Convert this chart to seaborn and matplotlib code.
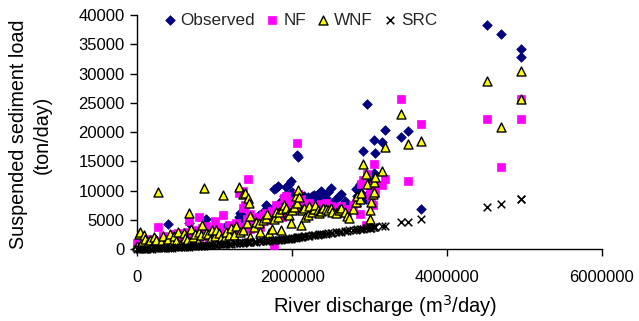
import matplotlib
matplotlib.use("Agg")
import matplotlib.pyplot as plt
import seaborn as sns
import pandas as pd

discharge = [0, 20000, 40000, 60000, 80000, 100000, 130000, 160000, 190000, 220000,
             240000, 270000, 300000, 330000, 360000, 390000, 420000, 450000, 470000, 500000,
             530000, 560000, 600000, 620000, 640000, 670000, 690000, 720000, 750000, 780000,
             800000, 820000, 840000, 860000, 880000, 910000, 940000, 970000, 1000000, 1020000,
             1050000, 1080000, 1110000, 1120000, 1150000, 1180000, 1210000, 1250000, 1280000, 1310000,
             1330000, 1360000, 1370000, 1390000, 1410000, 1430000, 1440000, 1450000, 1460000, 1500000,
             1530000, 1570000, 1590000, 1620000, 1660000, 1680000, 1700000, 1740000, 1770000, 1790000,
             1810000, 1830000, 1850000, 1870000, 1900000, 1920000, 1940000, 1960000, 1980000, 2000000,
             2020000, 2050000, 2060000, 2070000, 2090000, 2110000, 2130000, 2150000, 2170000, 2200000,
             2220000, 2250000, 2280000, 2300000, 2330000, 2350000, 2370000, 2400000, 2430000, 2460000,
             2500000, 2520000, 2560000, 2600000, 2630000, 2680000, 2710000, 2730000, 2790000, 2820000,
             2840000, 2870000, 2890000, 2910000, 2950000, 2970000, 3000000, 3010000, 3020000, 3040000,
             3050000, 3060000, 3070000, 3160000, 3200000, 3400000, 3500000, 3660000, 4520000, 4700000,
             4950000, 4950000]

observed = [200, 400, 300, 600, 500, 800, 400, 900, 1200, 700,
            1500, 1000, 1800, 600, 1300, 4300, 900, 2000, 1100, 1600,
            800, 2200, 1400, 2600, 1000, 4500, 1800, 2400, 1300, 3000,
            1700, 2100, 2800, 3400, 5100, 2000, 2600, 1500, 3200, 2300,
            1800, 3600, 2800, 2200, 3900, 2500, 3000, 4200, 3300, 5500,
            6200, 4800, 3900, 5300, 4600, 7800, 5000, 3700, 4400, 5200,
            4000, 5800, 4700, 6300, 7500, 7300, 6000, 6800, 10200, 10400,
            10800, 7000, 8200, 7700, 9100, 10600, 8600, 11200, 11700, 9800,
            8800, 9500, 16100, 15700, 8000, 9300, 7600, 9100, 8300, 8900,
            8400, 9000, 9200, 8700, 8400, 9600, 10000, 9300, 8700, 9700,
            10400, 7900, 8600, 9100, 9400, 8300, 7000, 7200, 7600, 10200,
            9000, 11200, 9600, 16700, 8600, 24800, 12000, 9800, 11000, 10200,
            13000, 18600, 16500, 18300, 20300, 19100, 20200, 6800, 38300, 36700,
            34200, 32800]

nf = [1000, 700, 1500, 400, 900, 300, 1200, 500, 1800, 900,
      1300, 3700, 1000, 2200, 700, 2000, 1500, 600, 2600, 1200,
      2800, 1700, 2300, 1000, 3000, 4800, 2500, 1400, 3200, 2000,
      5500, 2600, 3600, 3000, 4000, 2900, 1800, 3400, 4800, 2500,
      3800, 2200, 5800, 3000, 2700, 4200, 3300, 2600, 4500, 9600,
      3800, 7000, 10000, 7500, 5200, 11900, 4300, 6000, 3500, 4600,
      4100, 5500, 3700, 5900, 6200, 4900, 5200, 6500, 700, 7600,
      6800, 5800, 6400, 5500, 8800, 9000, 7300, 8100, 7900, 6900,
      7700, 8300, 18200, 9400, 6600, 8500, 7200, 7100, 7400, 6200,
      7800, 6700, 7500, 6900, 7300, 6400, 7700, 6800, 7800, 7000,
      7300, 6900, 6600, 7200, 7400, 6500, 6100, 6800, 7600, 7800,
      8100, 6000, 11200, 11800, 4100, 12900, 10500, 9300, 8800, 7500,
      14600, 10800, 9600, 11000, 11900, 25600, 11700, 21300, 22200, 14100,
      25600, 22200]

wnf = [600, 2500, 3000, 1200, 2400, 1800, 800, 1500, 600, 2000,
       1500, 9800, 1200, 2300, 900, 1700, 2600, 1000, 2200, 1400,
       3000, 800, 2800, 1900, 1500, 6100, 3400, 2000, 2600, 1200,
       3000, 2400, 4100, 10400, 2800, 2500, 1600, 3300, 2200, 3200,
       2700, 1900, 9200, 1800, 3000, 2400, 3600, 2400, 3900, 10600,
       3000, 3200, 9500, 9600, 4500, 8800, 7800, 5600, 2100, 3800,
       4600, 4400, 3000, 4900, 5300, 6000, 2700, 3500, 5100, 6300,
       5500, 6400, 3200, 6800, 7500, 7000, 6000, 5800, 4400, 6600,
       7200, 9100, 7800, 10100, 8900, 4100, 6700, 7000, 5500, 5800,
       7300, 6400, 6900, 7500, 6600, 6200, 6500, 7100, 6800, 6600,
       7000, 6400, 6100, 6700, 7000, 6300, 5600, 5400, 6900, 8100,
       9100, 8500, 9600, 14600, 12900, 11200, 6700, 5200, 8100, 9500,
       9800, 11500, 12300, 13400, 17400, 23100, 17900, 18500, 28800, 20900,
       30400, 25600]

src = [0, 10, 15, 25, 30, 40, 55, 75, 90, 110,
       120, 140, 160, 180, 210, 230, 250, 270, 290, 300,
       330, 350, 380, 400, 410, 440, 450, 480, 500, 530,
       550, 570, 590, 600, 620, 650, 680, 710, 740, 760,
       790, 810, 840, 850, 880, 910, 940, 980, 1010, 1040,
       1060, 1100, 1110, 1130, 1150, 1170, 1180, 1200, 1210, 1250,
       1280, 1320, 1340, 1370, 1420, 1440, 1460, 1500, 1540, 1560,
       1580, 1600, 1620, 1650, 1680, 1710, 1730, 1760, 1780, 1900,
       1930, 1980, 2000, 2020, 2060, 2100, 2130, 2160, 2200, 2240,
       2280, 2330, 2390, 2420, 2480, 2510, 2550, 2600, 2650, 2700,
       2770, 2800, 2880, 2950, 3000, 3090, 3140, 3180, 3280, 3330,
       3370, 3420, 3460, 3500, 3570, 3600, 3650, 3670, 3690, 3720,
       3740, 3760, 3780, 3950, 4000, 4600, 4700, 5100, 7200, 7700,
       8500, 8500]

series_names = ["Observed", "NF", "WNF", "SRC"]
x_ticks = [0, 2000000, 4000000, 6000000]
y_ticks = [0, 5000, 10000, 15000, 20000, 25000, 30000, 35000, 40000]

df = pd.DataFrame({"Q": discharge, "Observed": observed, "NF": nf,
                   "WNF": wnf, "SRC": src})

sns.set_style("ticks")
plt.rcParams["font.family"] = ["Liberation Sans", "DejaVu Sans"]

fig, ax = plt.subplots(figsize=(6.39, 3.21), dpi=100)
fig.subplots_adjust(left=0.215, right=0.942, top=0.953, bottom=0.224)

styles = {
    "Observed": dict(marker="D", color="#000080", edgecolor="#000080", s=24, linewidth=0.5),
    "NF": dict(marker="s", color="#FF00FF", edgecolor="#FF00FF", s=28, linewidth=0.5),
    "WNF": dict(marker="^", color="#FFFF00", edgecolor="black", s=42, linewidth=1.0),
    "SRC": dict(marker="x", color="black", s=30, linewidth=1.1),
}

for name in series_names:
    sns.scatterplot(data=df, x="Q", y=name, ax=ax, label=name,
                    clip_on=False, zorder=3, **styles[name])

ax.set_xlim(0, 6000000)
ax.set_ylim(0, 40000)
ax.set_xticks(x_ticks)
ax.set_xticklabels([str(v) for v in x_ticks])
ax.set_yticks(y_ticks)
ax.set_yticklabels([str(v) for v in y_ticks])
ax.tick_params(axis="both", direction="out", length=5, width=1, labelsize=12,
               color="black", labelcolor="black", pad=4)
ax.tick_params(axis="x", pad=10)
sns.despine(ax=ax)
for sp in ["left", "bottom"]:
    ax.spines[sp].set_color("black")
    ax.spines[sp].set_linewidth(1)

ax.set_xlabel("River discharge (m$^3$/day)", fontsize=14.5, color="black")
ax.xaxis.set_label_coords(0.532, -0.19)
ax.set_ylabel("Suspended sediment load\n(ton/day)", fontsize=14.2, color="black",
              linespacing=1.3)
ax.yaxis.set_label_coords(-0.185, 0.49)

leg = ax.legend(loc="upper center", bbox_to_anchor=(0.352, 1.04), ncol=4,
                frameon=False, fontsize=12.3, handlelength=0.6, handletextpad=0.35,
                columnspacing=0.7, borderaxespad=0.0)

fig.savefig("out.png", dpi=100)
